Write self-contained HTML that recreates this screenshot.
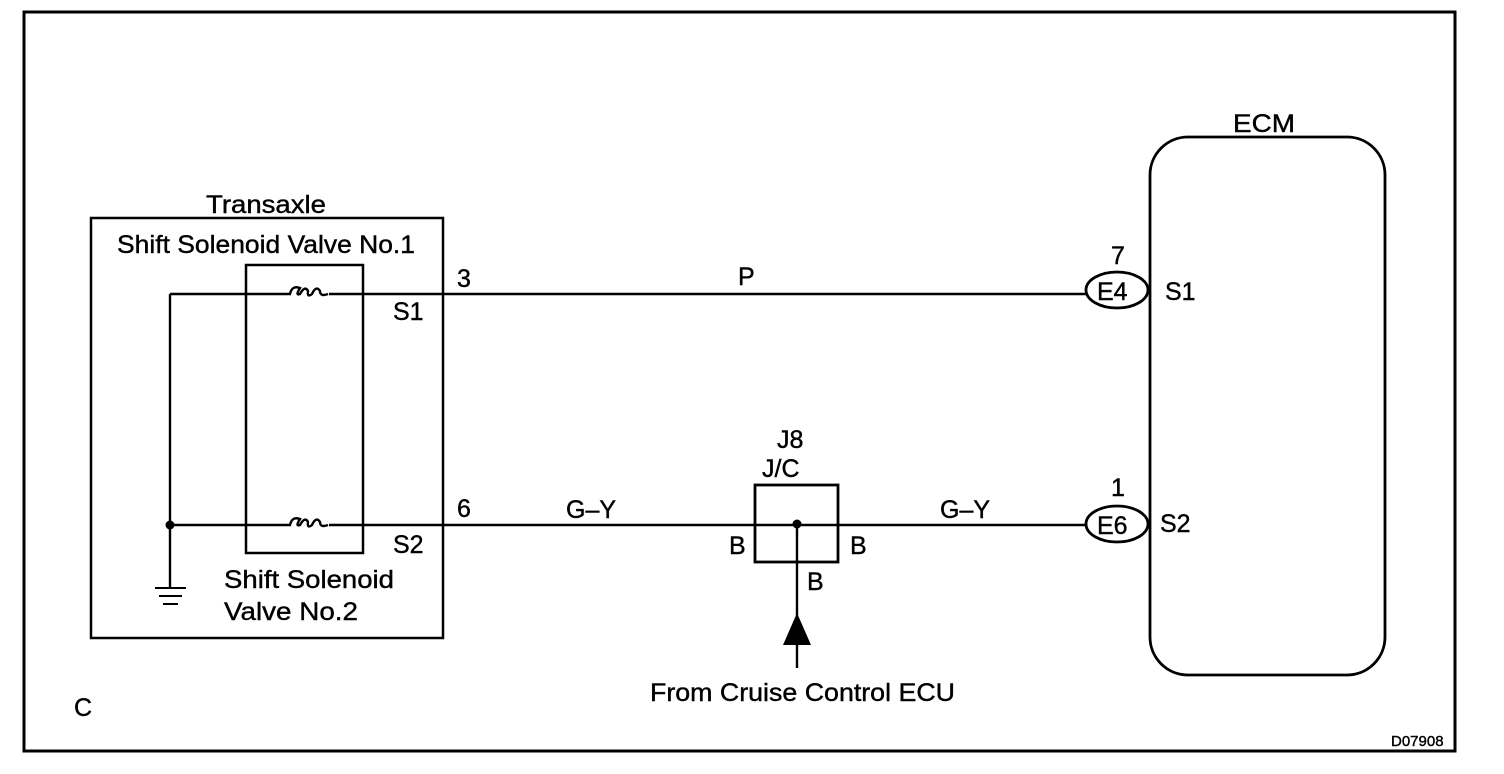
<!DOCTYPE html>
<html><head><style>
html,body{margin:0;padding:0;background:#fff;}
svg{display:block;}
text{font-family:"Liberation Sans",Arial,sans-serif;font-size:25px;fill:#000;stroke:#000;stroke-width:0.4px;}
</style></head><body>
<svg width="1504" height="774" viewBox="0 0 1504 774" xmlns="http://www.w3.org/2000/svg">
<rect x="24" y="12" width="1431" height="739" fill="none" stroke="#000" stroke-width="3"/>
<rect x="91" y="218" width="352" height="420" fill="none" stroke="#000" stroke-width="2.5"/>
<text x="206" y="213" textLength="120" lengthAdjust="spacingAndGlyphs">Transaxle</text>
<text x="117" y="253" textLength="298" lengthAdjust="spacingAndGlyphs">Shift Solenoid Valve No.1</text>
<rect x="246" y="265" width="117" height="288" fill="none" stroke="#000" stroke-width="2.5"/>
<g stroke="#000" stroke-width="2.4" fill="none">
<path d="M170 294 H291 M329 294 H1086"/>
<path d="M170 525 H291 M329 525 H1086"/>
<path d="M170 294 V588"/>
<path d="M155 588 H186 M159 596 H182 M163 604 H178" stroke-width="2"/>
<path d="M290 294 q2 -9 10 -6 q-5 8 0 6 q5 -9 8 -3 q-1 7 4 3 q4 -9 8 -3 q0 6 8 3"/>
<path d="M290 525 q2 -9 10 -6 q-5 8 0 6 q5 -9 8 -3 q-1 7 4 3 q4 -9 8 -3 q0 6 8 3"/>
<rect x="755" y="485" width="83" height="77" stroke-width="2.8"/>
<path d="M797 525 V668"/>
<rect x="1150" y="137" width="235" height="538" rx="38" ry="38" stroke-width="2.8"/>
<ellipse cx="1117" cy="290" rx="31" ry="18" fill="#fff" stroke-width="2.8"/>
<ellipse cx="1117" cy="524" rx="31" ry="18" fill="#fff" stroke-width="2.8"/>
</g>
<circle cx="170" cy="525" r="4.5" fill="#000"/>
<circle cx="797" cy="524" r="4.5" fill="#000"/>
<polygon points="797,613 783,645 811,645" fill="#000"/>
<text x="393" y="320">S1</text>
<text x="393" y="553">S2</text>
<text x="457" y="287">3</text>
<text x="457" y="517">6</text>
<text x="738" y="285">P</text>
<text x="566" y="518">G–Y</text>
<text x="940" y="518">G–Y</text>
<text x="224" y="588" textLength="170" lengthAdjust="spacingAndGlyphs">Shift Solenoid</text>
<text x="224" y="620" textLength="134" lengthAdjust="spacingAndGlyphs">Valve No.2</text>
<text x="777" y="448">J8</text>
<text x="762" y="477">J/C</text>
<text x="729" y="554">B</text>
<text x="850" y="554">B</text>
<text x="807" y="590">B</text>
<text x="650" y="701" textLength="305" lengthAdjust="spacingAndGlyphs">From Cruise Control ECU</text>
<text x="1111" y="264">7</text>
<text x="1111" y="496">1</text>
<text x="1097" y="300">E4</text>
<text x="1097" y="534">E6</text>
<text x="1165" y="300">S1</text>
<text x="1160" y="532">S2</text>
<text x="1233" y="132" textLength="62" lengthAdjust="spacingAndGlyphs">ECM</text>
<text x="74" y="716">C</text>
<text x="1391" y="746" style="font-size:15px">D07908</text>
</svg>
</body></html>
